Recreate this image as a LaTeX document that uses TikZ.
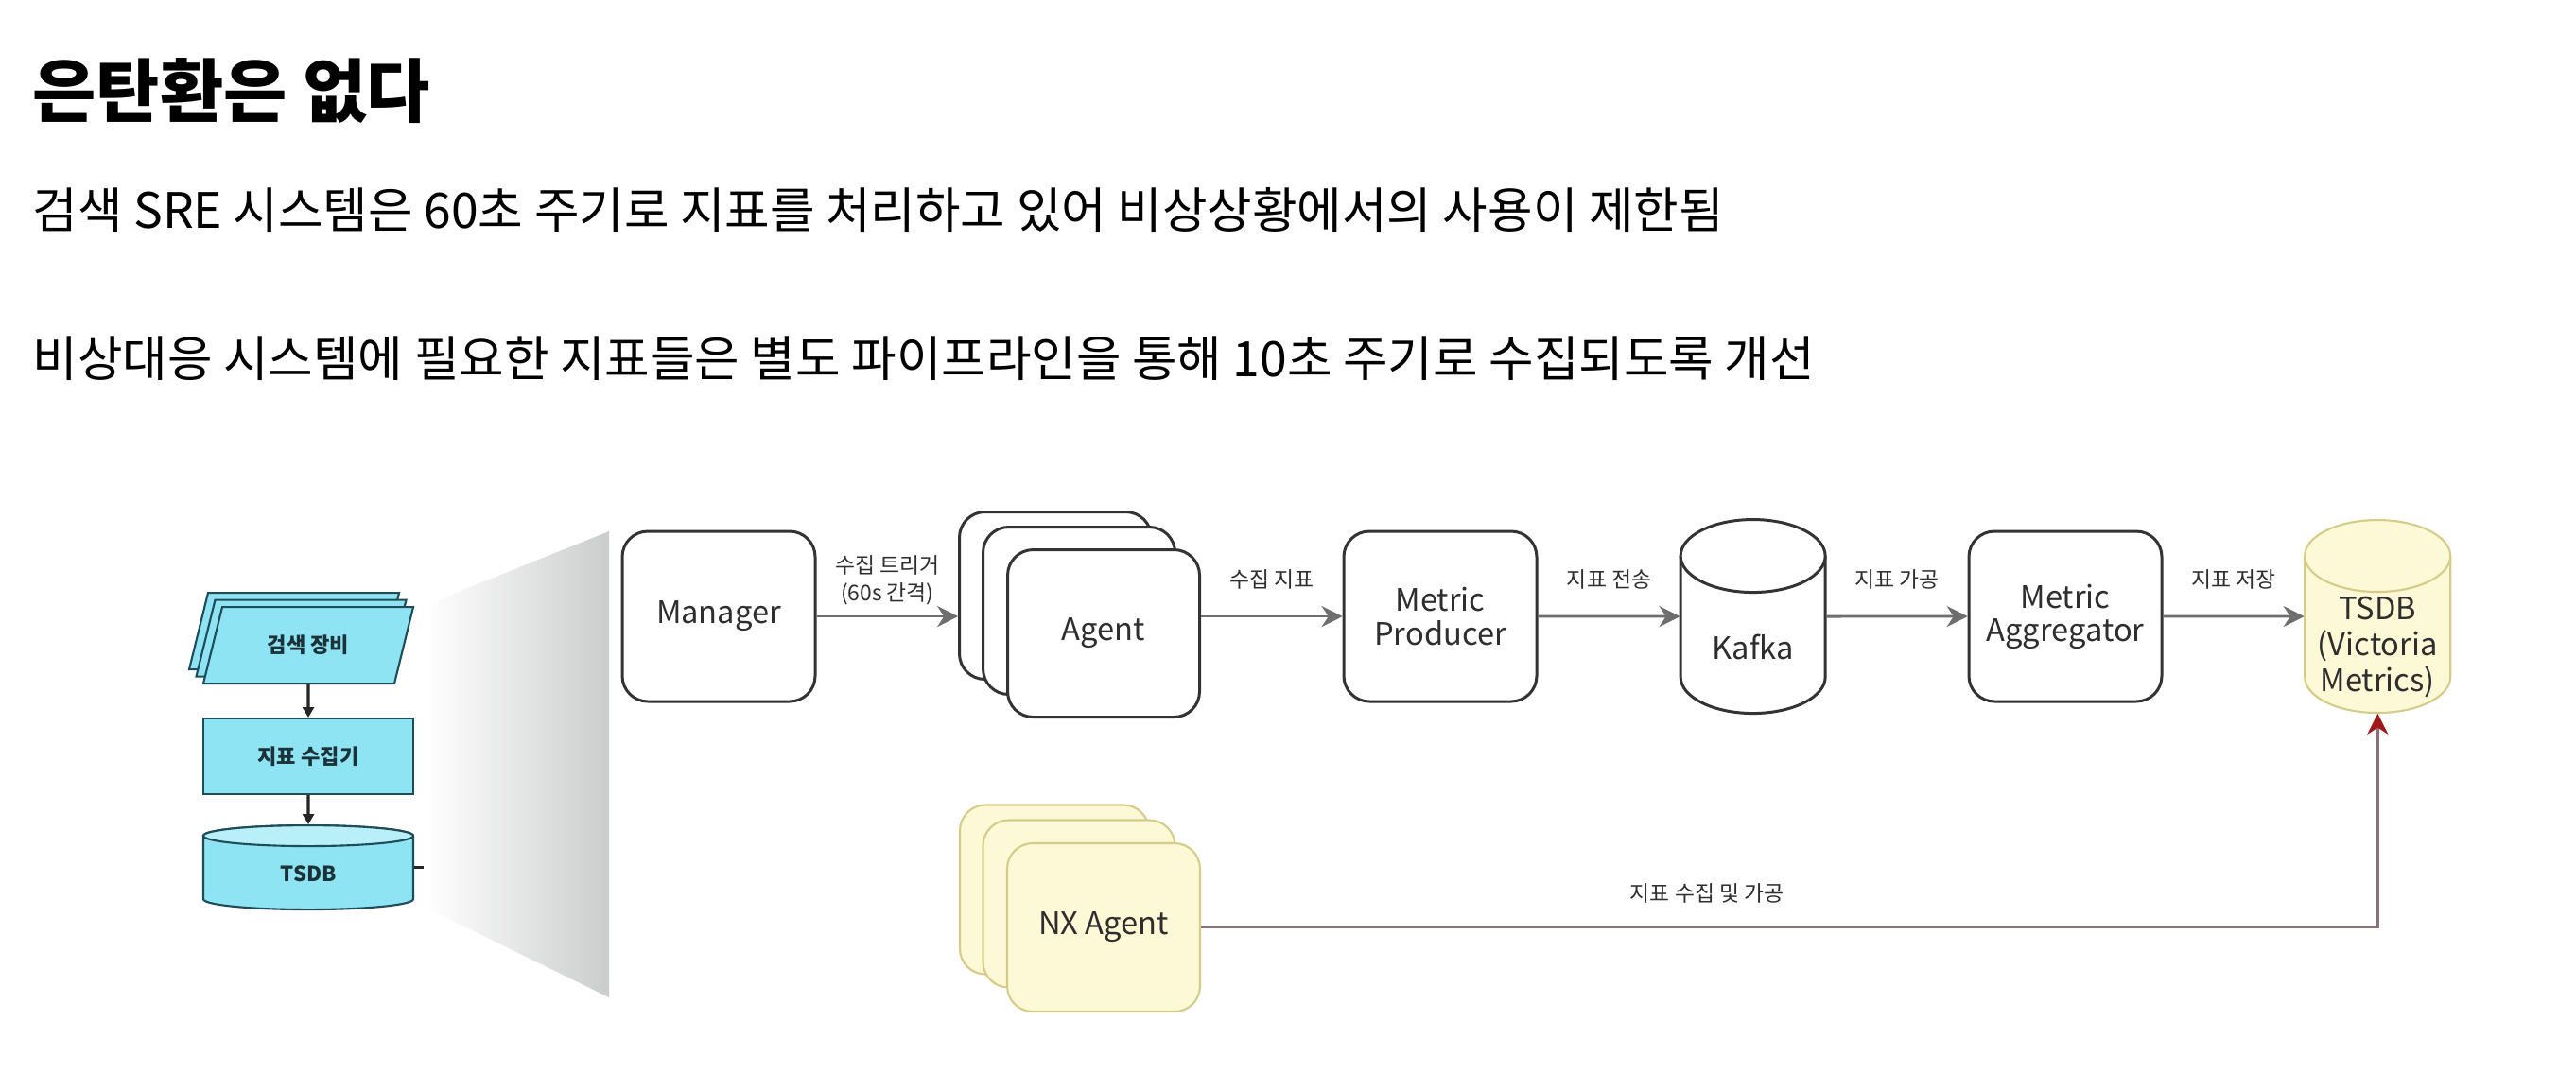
\documentclass[tikz,border=0pt]{standalone}
\usepackage{fontspec}
\setmainfont{Noto Sans CJK KR}
\usetikzlibrary{arrows.meta}
\definecolor{boxline}{HTML}{333333}
\definecolor{txtgray}{HTML}{2E2E2E}
\definecolor{flowgray}{HTML}{6E6E6E}
\definecolor{cyanfill}{HTML}{8FE4F3}
\definecolor{cyantop}{HTML}{B9EFF8}
\definecolor{cyanline}{HTML}{1E4C58}
\definecolor{cyantext}{HTML}{1B3238}
\definecolor{nxfill}{HTML}{FDF8D5}
\definecolor{nxline}{HTML}{D6CC8A}
\definecolor{redline}{HTML}{8C7176}
\definecolor{redhead}{HTML}{A01818}
\definecolor{shadegray}{HTML}{CBCDCC}

\begin{document}
\begin{tikzpicture}[scale=0.1]
\tikzstyle{every node}+=[inner sep=0pt]
\tikzstyle{proc}=[draw=boxline, line width=0.85pt, rounded corners=2.7mm, fill=white, minimum width=20.4mm, minimum height=18mm, align=center, text=txtgray, font=\fontsize{9.3}{10}\selectfont]
\tikzstyle{nxproc}=[proc, draw=nxline, fill=nxfill, line width=0.6pt]
\tikzstyle{dbline}=[draw=boxline, line width=0.85pt, fill=white]
\tikzstyle{boxtext}=[align=center, text=txtgray, font=\fontsize{9.3}{10.5}\selectfont]
\tikzstyle{flow}=[draw=flowgray, line width=0.8pt, -{Stealth[length=2.2mm,width=2.2mm]}]
\tikzstyle{redflow}=[draw=redline, line width=0.8pt, -{Stealth[length=2.2mm,width=2.2mm,color=redhead]}]
\tikzstyle{elabel}=[align=center, text=txtgray, font=\fontsize{6.5}{8.2}\selectfont]
\tikzstyle{leftbox}=[draw=cyanline, fill=cyanfill, line width=0.6pt, text=cyantext, font=\bfseries\fontsize{6.3}{7}\selectfont]
\tikzstyle{leftarrow}=[draw=black!85, line width=0.9pt, -{Triangle[length=1.1mm,width=1.2mm]}]

\fill[white] (0,0) rectangle (272.4,-113.4);
\useasboundingbox (0,0) rectangle (272.4,-113.4);

\node[anchor=west, text=black, font=\bfseries\fontsize{20.8}{24}\selectfont] (title) at (3.4,-9.6) {은탄환은 없다};
\node[anchor=west, text=black, font=\fontsize{14.7}{17}\selectfont] (line1) at (3.4,-22.2) {검색 SRE 시스템은 60초 주기로 지표를 처리하고 있어 비상상황에서의 사용이 제한됨};
\node[anchor=west, text=black, font=\fontsize{14.7}{17}\selectfont] (line2) at (3.4,-37.9) {비상대응 시스템에 필요한 지표들은 별도 파이프라인을 통해 10초 주기로 수집되도록 개선};

\shade[left color=white, right color=shadegray] (45.0,-64.0) -- (64.4,-56.2) -- (64.4,-105.5) -- (45.0,-96.0) -- cycle;

\coordinate (devpos) at (32.6,-68.25);
\foreach \s in {1.5,0.75,0}
  \draw[leftbox] (devpos) ++(-9.1-\s,4.05+\s) -- ++(20.2,0) -- ++(-2,-8.1) -- ++(-20.2,0) -- cycle;
\node[leftbox, draw=none, fill=none, minimum width=20.2mm, minimum height=8.1mm] (dev) at (devpos) {검색 장비};
\node[leftbox, minimum width=22.2mm, minimum height=8mm] (coll) at (32.6,-80) {지표 수집기};
\coordinate (ltsdbpos) at (32.6,-91.75);
\draw[leftbox] (ltsdbpos) ++(-11.1,3.35) -- ++(0,-6.7) arc (180:360:11.1 and 1.1) -- ++(0,6.7) arc (0:180:11.1 and 1.1) -- cycle;
\draw[leftbox, fill=cyantop] (ltsdbpos) ++(0,3.35) ellipse (11.1 and 1.1);
\node[leftbox, draw=none, fill=none, minimum width=22.2mm, minimum height=8.9mm, label={[leftbox, draw=none, fill=none, yshift=-0.7mm]center:TSDB}] (ltsdb) at (ltsdbpos) {};
\draw[leftarrow] (dev.south) -- (coll.north);
\draw[leftarrow] (coll.south) -- (ltsdb.north);
\draw[draw=black!85, line width=1pt] (ltsdb.east) -- ++(1,0);

\node[proc] (mgr) at (76.0,-65.2) {Manager};
\node[proc, minimum width=20.3mm, minimum height=17.7mm] (agent1) at (111.6,-63.0) {};
\node[proc, minimum width=20.3mm, minimum height=17.7mm] (agent2) at (114.1,-64.6) {};
\node[proc, minimum width=20.3mm, minimum height=17.7mm] (agent) at (116.7,-67.0) {Agent};
\node[proc] (mp) at (152.3,-65.2) {Metric\\Producer};
\node[proc] (magg) at (218.4,-65.2) {Metric\\Aggregator};

\coordinate (kafkapos) at (185.35,-65.2);
\draw[dbline] (kafkapos) ++(-7.65,6.4) -- ++(0,-12.8) arc (180:360:7.65 and 3.85) -- ++(0,12.8) arc (0:180:7.65 and 3.85) -- cycle;
\draw[dbline] (kafkapos) ++(-7.65,6.4) arc (180:360:7.65 and 3.85);
\node[minimum width=15.3mm, minimum height=20.5mm, label={[boxtext, yshift=-3.2mm]center:Kafka}] (kafka) at (kafkapos) {};

\coordinate (vmpos) at (251.4,-65.2);
\draw[dbline, draw=nxline, fill=nxfill, line width=0.6pt] (vmpos) ++(-7.7,6.4) -- ++(0,-12.8) arc (180:360:7.7 and 3.8) -- ++(0,12.8) arc (0:180:7.7 and 3.8) -- cycle;
\draw[dbline, draw=nxline, fill=none, line width=0.6pt] (vmpos) ++(-7.7,6.4) arc (180:360:7.7 and 3.8);
\node[minimum width=15.4mm, minimum height=20.4mm, label={[boxtext, font=\fontsize{9.3}{10.8}\selectfont, yshift=-3.2mm]center:TSDB\\(Victoria\\Metrics)}] (vm) at (vmpos) {};

\node[nxproc, minimum width=20.0mm, minimum height=17.9mm] (nx1) at (111.5,-94.1) {};
\node[nxproc, minimum width=20.3mm, minimum height=17.7mm] (nx2) at (114.1,-95.6) {};
\node[nxproc, minimum width=20.4mm, minimum height=17.8mm] (nx) at (116.7,-98.1) {NX Agent};

\draw[flow] (mgr.east) -- node[elabel, yshift=3.8mm] {수집 트리거\\(60s 간격)} (mgr.east -| agent1.west);
\draw[flow] (agent.east |- mp.west) -- node[elabel, yshift=3.9mm] {수집 지표} (mp.west);
\draw[flow] (mp.east) -- node[elabel, yshift=3.9mm] {지표 전송} (kafka.west);
\draw[flow] (kafka.east) -- node[elabel, yshift=3.9mm] {지표 가공} (magg.west);
\draw[flow] (magg.east) -- node[elabel, yshift=3.9mm] {지표 저장} (vm.west);
\draw[redflow] (nx.east) -| node[elabel, pos=0.215, yshift=3.6mm] {지표 수집 및 가공} (vm.south);
\end{tikzpicture}
\end{document}
